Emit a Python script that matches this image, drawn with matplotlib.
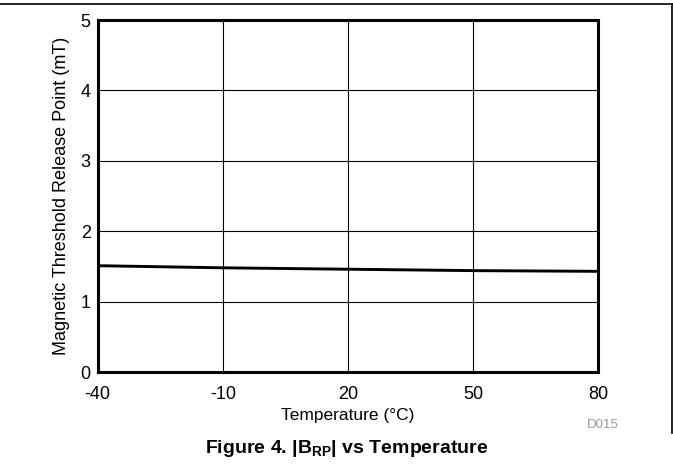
import matplotlib
matplotlib.use("Agg")
import matplotlib.pyplot as plt
from matplotlib.lines import Line2D

plt.rcParams["font.family"] = ["Liberation Sans", "DejaVu Sans"]
plt.rcParams["mathtext.fontset"] = "custom"
plt.rcParams["mathtext.rm"] = "Liberation Sans"
plt.rcParams["mathtext.bf"] = "Liberation Sans:bold"

# Release point vs temperature
temperature = [-40, -25, -10, 5, 20, 35, 50, 65, 80]
brp = [1.51, 1.495, 1.48, 1.47, 1.46, 1.45, 1.44, 1.435, 1.43]

x_ticks = [-40, -10, 20, 50, 80]
y_ticks = [0, 1, 2, 3, 4, 5]

W, H = 673, 465
fig = plt.figure(figsize=(W / 100, H / 100), dpi=100)
ax = fig.add_axes([97.7 / W, 1 - 372 / H, (598 - 97.7) / W, (372 - 20) / H])

ax.plot(temperature, brp, color="black", lw=2.1, solid_capstyle="butt")

ax.set_xlim(-40, 80)
ax.set_ylim(0, 5)
ax.set_xticks(x_ticks)
ax.set_yticks(y_ticks)
ax.set_xticklabels([str(t) for t in x_ticks])
ax.tick_params(length=0, labelsize=13)
ax.tick_params(axis="x", pad=10)
ax.tick_params(axis="y", pad=5)
ax.grid(True, color="black", lw=0.8)
ax.set_axisbelow(True)
for s in ax.spines.values():
    s.set_linewidth(2.2)

ax.set_xlabel("Temperature (°C)", fontsize=12.5, labelpad=4)
ax.set_ylabel("Magnetic Threshold Release Point (mT)", fontsize=13, labelpad=8)

fig.text(603 / W, 1 - 425 / H, "D015", color="#999999", fontsize=9.5, ha="center", va="center")
fig.text(347 / W, 1 - 448 / H, r"Figure 4. |B$_\mathbf{RP}$| vs Temperature",
         fontsize=14, fontweight="bold", ha="center", va="center")

# page frame lines
fig.add_artist(Line2D([0, 671.5 / W], [1 - 4 / H, 1 - 4 / H], color="black", lw=1.2,
                      transform=fig.transFigure))
fig.add_artist(Line2D([671.5 / W, 671.5 / W], [1 - 4 / H, 1 - 433 / H], color="black", lw=1.2,
                      transform=fig.transFigure))

fig.savefig("out.png", dpi=100)
